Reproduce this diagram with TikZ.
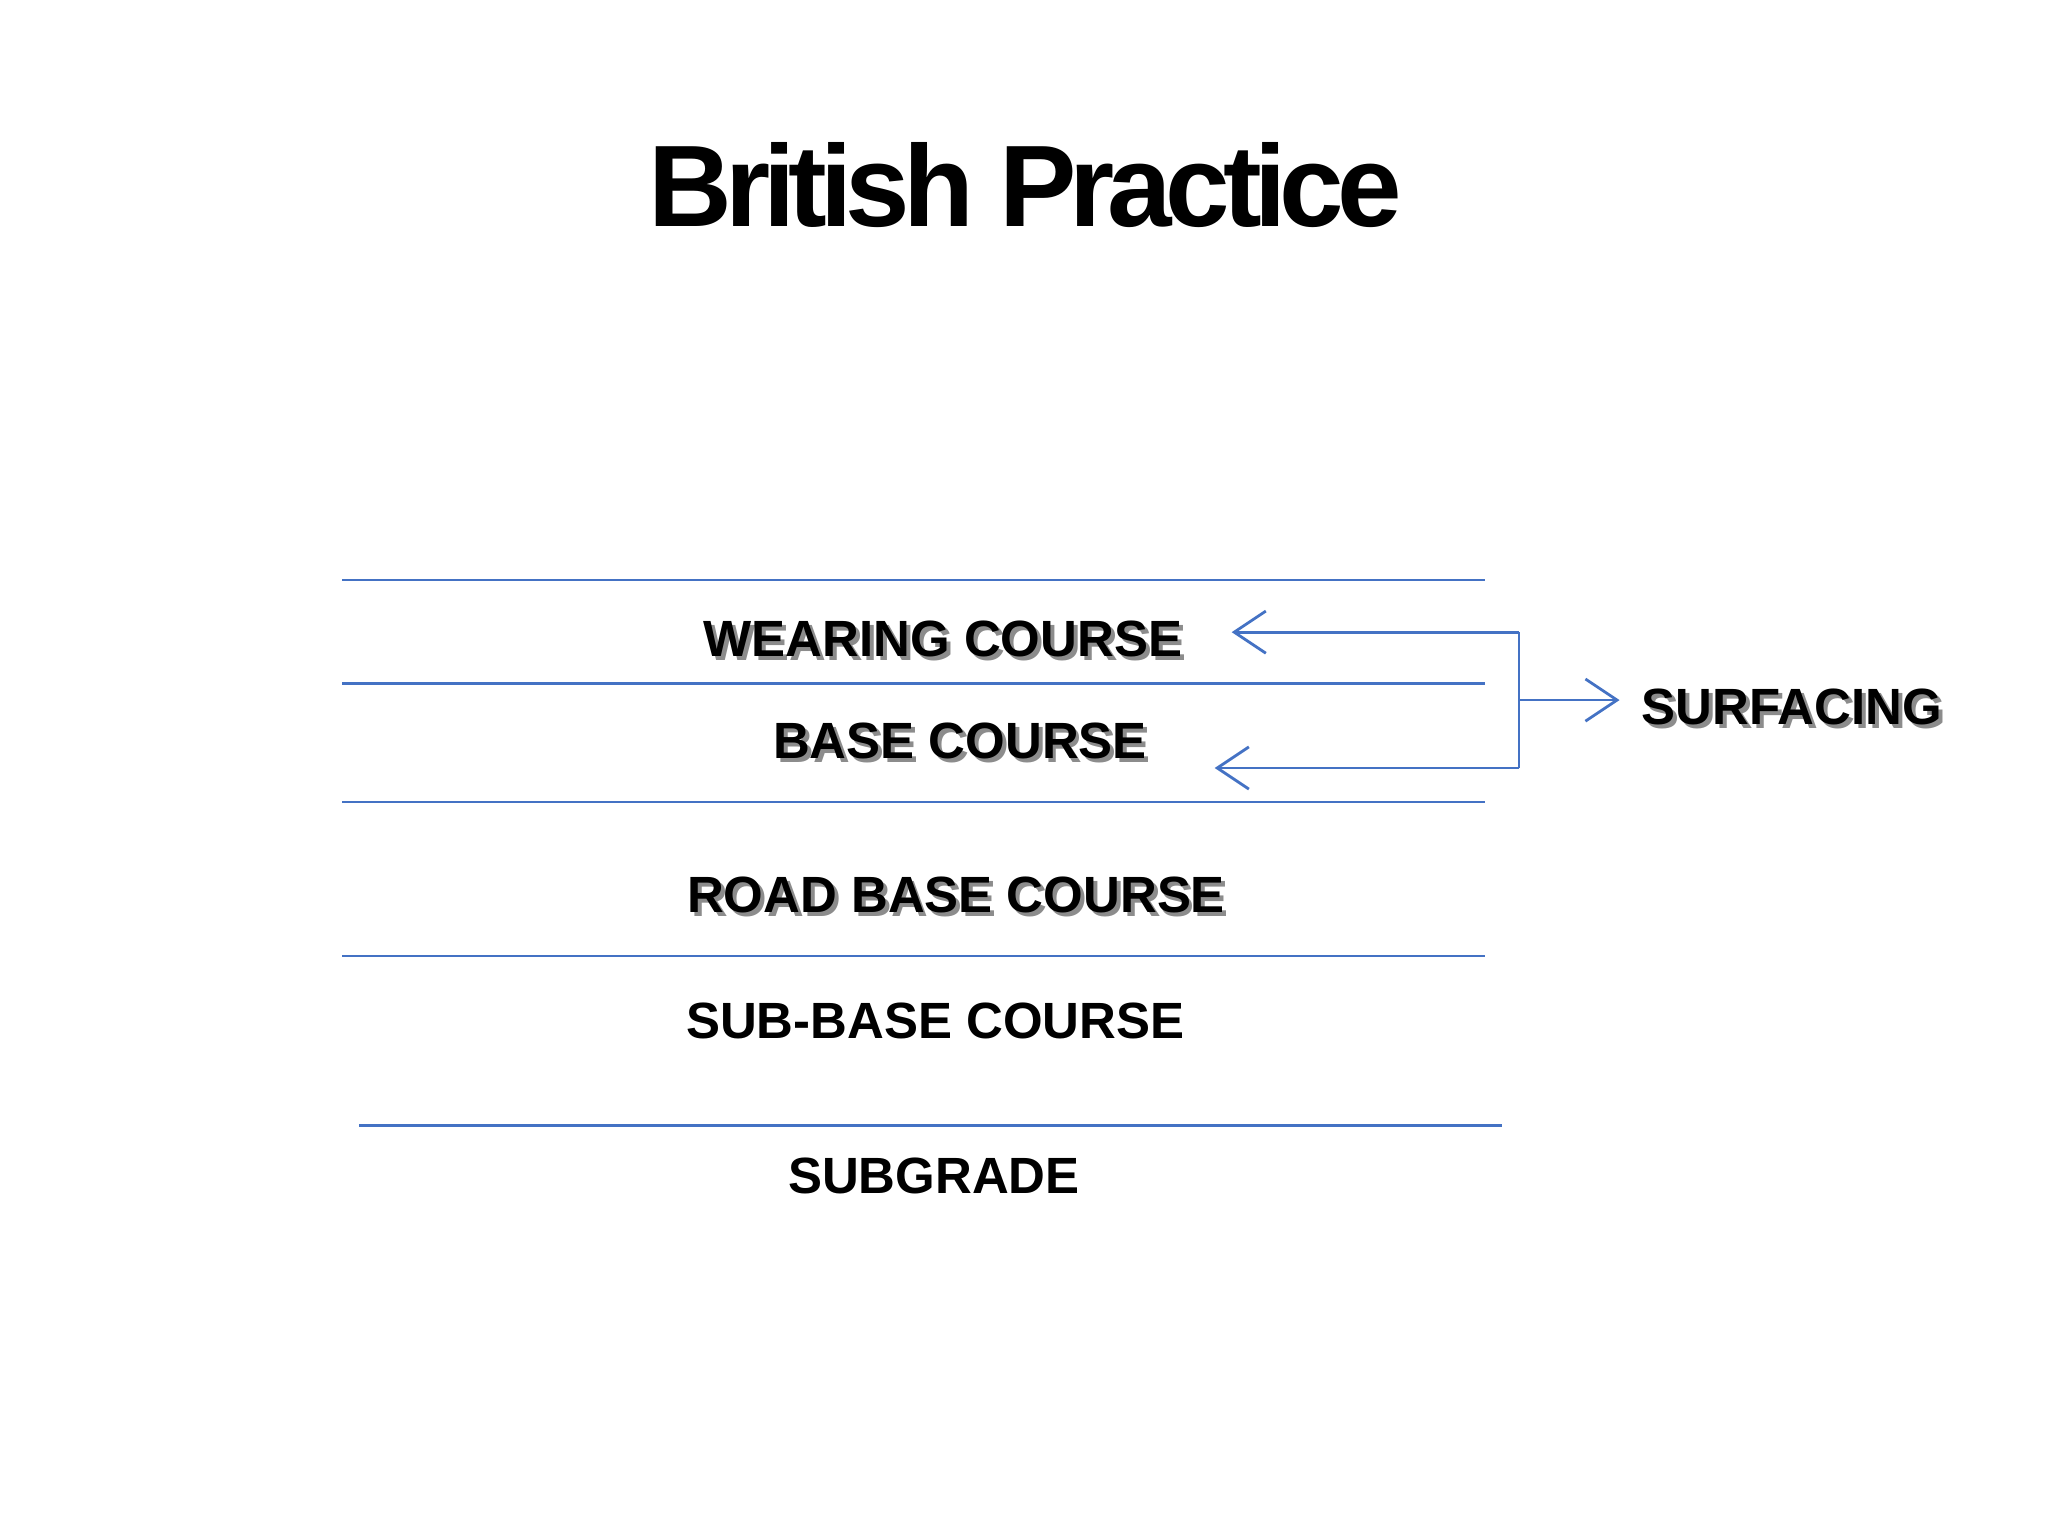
\documentclass[tikz,border=0pt]{standalone}
\usepackage{fontspec}
\setmainfont{Liberation Sans}
\usetikzlibrary{arrows.meta}
\definecolor{lb}{RGB}{68,114,196}
\begin{document}
\begin{tikzpicture}[x=0.013061cm,y=-0.013061cm,
  layer/.style={draw=lb,line width=0.8pt},
  conn/.style={draw=lb,line width=0.8pt},
  arr/.style={conn,-{Straight Barb[length=9pt,width=12pt]}},
  lbl/.style={font=\bfseries\fontsize{14.5}{16}\selectfont,inner sep=0pt},
  shd/.style={lbl,text=black!45}]
\useasboundingbox (0,0) rectangle (1568,1176);
\node[inner sep=0pt,font=\bfseries\fontsize{33}{36}\selectfont] (title) at (785,142) {\addfontfeature{LetterSpace=-6}British Practice};
\draw[layer] (262,444) -- (1137,444);
\draw[layer] (262,523) -- (1137,523);
\draw[layer] (262,614) -- (1137,614);
\draw[layer] (262,732) -- (1137,732);
\draw[layer] (275,862) -- (1150,862);
\foreach \t/\x/\y/\n in {WEARING COURSE/722/489/w, BASE COURSE/735/567/b, ROAD BASE COURSE/732/685/r, SURFACING/1372/541/s}{
  \node[shd] at (\x+3,\y+3) {\t};
  \node[lbl] (\n) at (\x,\y) {\t};
}
\node[lbl] (sb) at (716,782) {SUB-BASE COURSE};
\node[lbl] (sg) at (715,900) {SUBGRADE};
\coordinate (c1) at (1163,484);
\coordinate (c2) at (1163,588);
\coordinate (c3) at (1163,536);
\coordinate (e1) at (943,484);
\coordinate (e2) at (930,588);
\coordinate (e3) at (1240,536);
\draw[conn] (c1) -- (c2);
\draw[arr] (c1) -- (e1);
\draw[arr] (c2) -- (e2);
\draw[arr] (c3) -- (e3);
\end{tikzpicture}
\end{document}
